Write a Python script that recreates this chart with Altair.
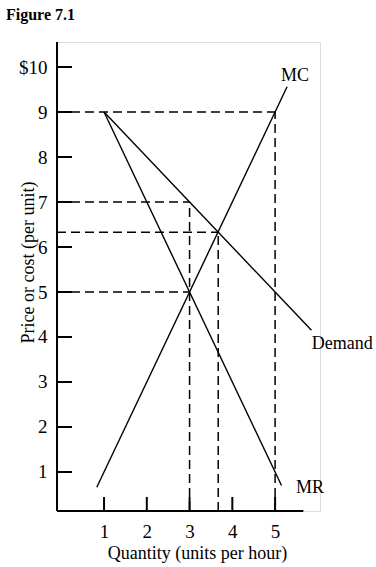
import altair as alt
import pandas as pd

# ---- data ----
mc_q = [0.83, 5.28]
mc_p = [0.66, 9.56]
demand_q = [1.0, 5.85]
demand_p = [9.0, 4.15]
mr_q = [1.0, 5.15]
mr_p = [9.0, 0.70]

# dashed guides: horizontal (price level, quantity where it ends)
h_guide_p = [9.0, 7.0, 6.33, 5.0]
h_guide_q = [5.0, 3.0, 3.67, 3.0]
# vertical (quantity, price where it starts)
v_guide_q = [5.0, 3.0, 3.67]
v_guide_p = [9.0, 7.0, 6.33]

y_ticks = [1, 2, 3, 4, 5, 6, 7, 8, 9, 10]
x_ticks = [1, 2, 3, 4, 5]

curve_labels = ["MC", "Demand", "MR"]
label_q = [5.14, 5.86, 5.49]
label_p = [9.80, 3.84, 0.64]

X_MIN, X_MAX = -0.1, 6.05
Y_MIN, Y_MAX = 0.133, 10.556
X_AXIS_END = 5.66

FONT = "Liberation Serif"

xs = alt.Scale(domain=[X_MIN, X_MAX], nice=False, zero=False)
ys = alt.Scale(domain=[Y_MIN, Y_MAX], nice=False, zero=False)

curves = pd.DataFrame({
    "q": mc_q + demand_q + mr_q,
    "p": mc_p + demand_p + mr_p,
    "curve": ["MC"] * 2 + ["Demand"] * 2 + ["MR"] * 2,
})

hg = pd.DataFrame({"p": h_guide_p, "q0": [X_MIN] * len(h_guide_p), "q1": h_guide_q})
vg = pd.DataFrame({"q": v_guide_q, "p0": [Y_MIN] * len(v_guide_q), "p1": v_guide_p})
labels = pd.DataFrame({"t": curve_labels, "q": label_q, "p": label_p})
yt = pd.DataFrame({"p": y_ticks})
xt = pd.DataFrame({"q": x_ticks})

base = alt.Chart(curves)

axes_frame = alt.Chart(pd.DataFrame({"q": [X_MIN], "p": [Y_MIN]})).mark_point(opacity=0).encode(
    x=alt.X("q:Q", scale=xs,
            axis=alt.Axis(values=x_ticks, title="Quantity (units per hour)", grid=False, domain=False,
                          ticks=False, labelPadding=11, labelFont=FONT, labelFontSize=19,
                          labelColor="black", titleFont=FONT, titleFontSize=18, titleFontWeight="normal",
                          titleColor="black", titleX=140, titleY=42, titleBaseline="middle")),
    y=alt.Y("p:Q", scale=ys,
            axis=alt.Axis(values=y_ticks, title="Price or cost (per unit)", grid=False, domain=False,
                          ticks=False, labelPadding=10, labelFont=FONT, labelFontSize=19,
                          labelColor="black", labelExpr="datum.value == 10 ? '$10' : datum.label",
                          titleFont=FONT, titleFontSize=18, titleFontWeight="normal",
                          titleColor="black", titleX=-29, titleY=220, titleBaseline="middle")),
)

y_axis_line = alt.Chart(pd.DataFrame({"q": [X_MIN], "p0": [Y_MIN], "p1": [Y_MAX]})).mark_rule(
    color="black", strokeWidth=2).encode(
    x=alt.X("q:Q", scale=xs), y=alt.Y("p0:Q", scale=ys), y2="p1:Q")
x_axis_line = alt.Chart(pd.DataFrame({"q0": [X_MIN], "q1": [X_AXIS_END], "p": [Y_MIN]})).mark_rule(
    color="black", strokeWidth=2).encode(
    x=alt.X("q0:Q", scale=xs), x2="q1:Q", y=alt.Y("p:Q", scale=ys))

y_tick_marks = alt.Chart(yt).mark_rule(color="black", strokeWidth=2).encode(
    y=alt.Y("p:Q", scale=ys), x=alt.value(0), x2=alt.value(15))
x_tick_marks = alt.Chart(xt).mark_rule(color="black", strokeWidth=2).encode(
    x=alt.X("q:Q", scale=xs), y=alt.value(469), y2=alt.value(455))

h_lines = alt.Chart(hg).mark_rule(color="black", strokeWidth=1.5, strokeDash=[9, 5]).encode(
    x=alt.X("q0:Q", scale=xs), x2="q1:Q", y=alt.Y("p:Q", scale=ys))
v_lines = alt.Chart(vg).mark_rule(color="black", strokeWidth=1.5, strokeDash=[9, 5]).encode(
    x=alt.X("q:Q", scale=xs), y=alt.Y("p0:Q", scale=ys), y2="p1:Q")

lines = base.mark_line(color="black", strokeWidth=1.4).encode(
    x=alt.X("q:Q", scale=xs), y=alt.Y("p:Q", scale=ys), detail="curve:N")

text = alt.Chart(labels).mark_text(font=FONT, fontSize=18, align="left", baseline="middle",
                                   color="black").encode(
    x=alt.X("q:Q", scale=xs), y=alt.Y("p:Q", scale=ys), text="t:N")

chart = alt.layer(
    axes_frame, h_lines, v_lines, lines, y_axis_line, x_axis_line, y_tick_marks, x_tick_marks, text
).properties(
    width=263, height=469,
    title=alt.TitleParams("Figure 7.1", anchor="start", frame="group", font=FONT, fontSize=16,
                          fontWeight="bold", color="black", dx=-51, offset=18),
    padding={"left": 57, "top": 42, "right": 56, "bottom": 56},
    autosize="none",
).configure_view(stroke=None).configure(background="white")

chart.save("out.html", embed_options={"renderer": "svg", "actions": False})
